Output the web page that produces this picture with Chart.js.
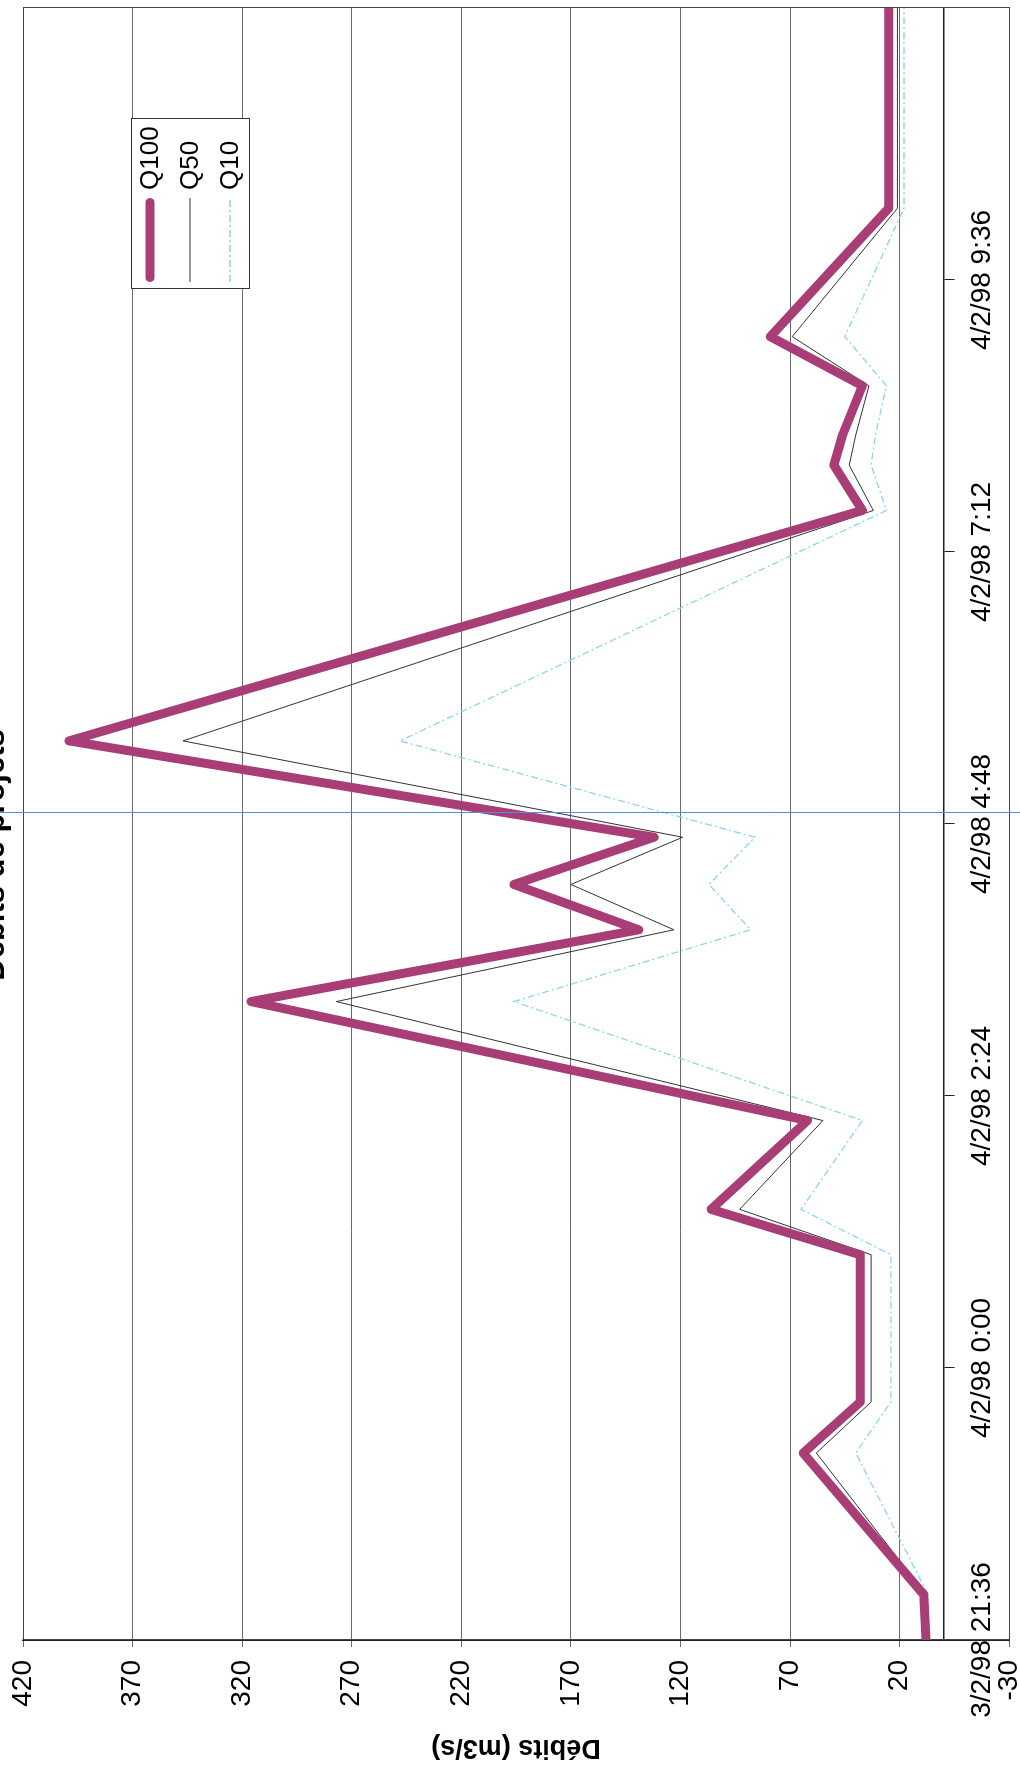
<!DOCTYPE html>
<html><head><meta charset="utf-8">
<script src="https://cdn.jsdelivr.net/npm/chart.js@4.4.0/dist/chart.umd.min.js"></script>
<style>
html,body{margin:0;padding:0;background:#fff;overflow:hidden;width:1020px;height:1774px;}
#wrap{position:absolute;left:0;top:0;width:1838px;height:1062px;transform-origin:0 0;transform:translate(-23px,1774px) rotate(-90deg);}
canvas{display:block;}
</style></head><body>
<div id="wrap"><canvas id="c" width="1838" height="1062"></canvas></div>
<script>
// time in minutes since 3/2/98 0:00
const timeMinutes = [1296,1320,1395,1422,1500,1524,1571,1634,1672,1696,1721,1772,1894,1918,1934,1960,1986,2054,2160];
const q100 = [8,9,64,38,38,106,62,316,139,196,132,399,37,50,46,37,79,25,25];
const q50  = [8,8,58,33,33,93,55,277,123,170,119,347,32,43,40,34,69,21,21];
const q10  = [7,7,40,24,24,65,37,196,88,107,86,248,26,33,31,26,45,18,18];
const timeTicks = [1296,1440,1584,1728,1872,2016,2160];
const timeTickLabels = ['3/2/98 21:36','4/2/98 0:00','4/2/98 2:24','4/2/98 4:48','4/2/98 7:12','4/2/98 9:36',''];
const valueTicks = [-30,20,70,120,170,220,270,320,370,420];
const cursorTime = 1734;

const FONT = '"Liberation Sans", Arial, sans-serif';
const pts = (arr) => timeMinutes.map((t, i) => ({x: t, y: arr[i]}));

const legendBox = {x: 1485, y: 154, w: 170, h: 118, rowStart: 173, rowGap: 40, sampleX: 1492, sampleW: 84, textX: 1584};

const framePlugin = {
  id: 'frame',
  beforeDatasetsDraw(chart) {
    const {ctx, chartArea: a} = chart;
    ctx.save();
    ctx.strokeStyle = '#444';
    ctx.lineWidth = 1;
    ctx.strokeRect(Math.round(a.left) + 0.5, Math.round(a.top) + 0.5, Math.round(a.width), Math.round(a.height));
    ctx.restore();
  },
  afterDatasetsDraw(chart) {
    const ctx = chart.ctx;
    const L = legendBox;
    ctx.save();
    ctx.fillStyle = '#fff';
    ctx.fillRect(L.x, L.y, L.w, L.h);
    ctx.strokeStyle = '#333';
    ctx.lineWidth = 1;
    ctx.strokeRect(L.x + 0.5, L.y + 0.5, L.w, L.h);
    chart.data.datasets.forEach((ds, i) => {
      const y = L.rowStart + i * L.rowGap;
      const inset = ds.borderWidth > 3 ? ds.borderWidth / 2 : 0;
      ctx.beginPath();
      ctx.setLineDash(ds.borderDash || []);
      ctx.lineCap = ds.borderCapStyle || 'butt';
      ctx.strokeStyle = ds.borderColor;
      ctx.lineWidth = ds.borderWidth;
      ctx.moveTo(L.sampleX + inset, y);
      ctx.lineTo(L.sampleX + L.sampleW - inset, y);
      ctx.stroke();
      ctx.setLineDash([]);
      ctx.fillStyle = '#000';
      ctx.font = '26px ' + FONT;
      ctx.textBaseline = 'middle';
      ctx.textAlign = 'left';
      ctx.fillText(ds.label, L.textX, y + 1);
    });
    ctx.restore();
  },
  afterDraw(chart) {
    const ctx = chart.ctx;
    const x = Math.round(chart.scales.x.getPixelForValue(cursorTime)) + 0.5;
    ctx.save();
    ctx.strokeStyle = '#4a8ff0';
    ctx.lineWidth = 1;
    ctx.beginPath();
    ctx.moveTo(x, 0);
    ctx.lineTo(x, chart.height);
    ctx.stroke();
    ctx.restore();
  }
};

new Chart(document.getElementById('c'), {
  type: 'line',
  data: {
    datasets: [
      {label: 'Q100', data: pts(q100), borderColor: '#a93d75', borderWidth: 9, pointRadius: 0,
       borderCapStyle: 'round', borderJoinStyle: 'round', tension: 0},
      {label: 'Q50', data: pts(q50), borderColor: '#333333', borderWidth: 1, pointRadius: 0, tension: 0},
      {label: 'Q10', data: pts(q10), borderColor: '#8fd4ec', borderWidth: 1.3, borderDash: [7, 3, 2, 3], pointRadius: 0, tension: 0}
    ]
  },
  options: {
    responsive: false,
    animation: false,
    devicePixelRatio: 1,
    layout: {padding: {left: 0, right: 0, top: 0, bottom: 0}},
    plugins: {
      legend: {display: false},
      tooltip: {enabled: false},
      title: {display: true, text: 'Débits de projets', color: '#000',
              font: {family: FONT, size: 31, weight: 'bold'}, padding: {top: 0, bottom: 8.8}}
    },
    scales: {
      x: {
        type: 'linear', position: {y: 0}, min: 1296, max: 2160,
        afterBuildTicks: (s) => { s.ticks = timeTicks.map(v => ({value: v})); },
        afterFit: (s) => { s.height = 20; },
        grid: {drawOnChartArea: false, drawTicks: true, tickLength: 10, color: '#222', lineWidth: 1},
        border: {display: true, color: '#222', width: 1.5},
        ticks: {
          color: '#000', font: {family: FONT, size: 28}, padding: 12,
          maxRotation: 0, minRotation: 0, autoSkip: false,
          callback: (v) => { const i = timeTicks.indexOf(v); return i >= 0 ? timeTickLabels[i] : ''; }
        }
      },
      y: {
        type: 'linear', position: 'left', min: -30, max: 420,
        afterBuildTicks: (s) => { s.ticks = valueTicks.map(v => ({value: v})); },
        afterFit: (s) => { s.width = 134; },
        grid: {color: '#6a6a6a', lineWidth: 1, drawTicks: true, tickLength: 7},
        border: {display: true, color: '#222', width: 1.5},
        ticks: {color: '#000', font: {family: FONT, size: 28}, padding: 13},
        title: {display: true, text: 'Débits (m3/s)', color: '#000',
                font: {family: FONT, size: 27, weight: 'bold'}, padding: {top: 10, bottom: 0}}
      },
      y2: {
        type: 'linear', position: 'right', display: true,
        grid: {display: false, drawTicks: false}, border: {display: false},
        ticks: {display: false},
        afterFit: (s) => { s.width = 72; }
      }
    }
  },
  plugins: [framePlugin]
});
</script>
</body></html>
